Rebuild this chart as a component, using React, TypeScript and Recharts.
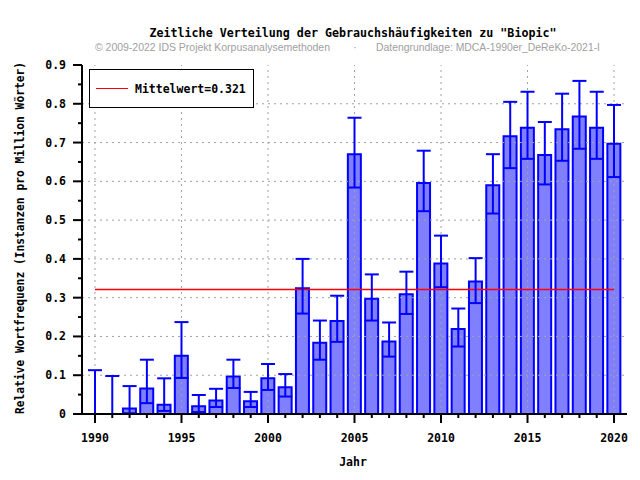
import React from "react";
import {
  ComposedChart,
  Bar,
  Scatter,
  XAxis,
  YAxis,
  ErrorBar,
  ReferenceLine,
} from "recharts";

const years = [
  1990, 1991, 1992, 1993, 1994, 1995, 1996, 1997, 1998, 1999, 2000, 2001,
  2002, 2003, 2004, 2005, 2006, 2007, 2008, 2009, 2010, 2011, 2012, 2013,
  2014, 2015, 2016, 2017, 2018, 2019, 2020,
];
const freq = [
  0, 0, 0.014, 0.066, 0.024, 0.15, 0.02, 0.035, 0.097, 0.033, 0.092, 0.069,
  0.324, 0.184, 0.24, 0.67, 0.297, 0.187, 0.309, 0.596, 0.388, 0.219, 0.342,
  0.59, 0.716, 0.738, 0.668, 0.734, 0.767, 0.738, 0.697,
];
const lower = [
  0, 0, 0.002, 0.028, 0.008, 0.093, 0.005, 0.018, 0.067, 0.018, 0.062, 0.045,
  0.259, 0.14, 0.186, 0.584, 0.241, 0.148, 0.258, 0.523, 0.327, 0.174, 0.286,
  0.517, 0.634, 0.658, 0.592, 0.653, 0.684, 0.658, 0.611,
];
const upper = [
  0.113, 0.098, 0.072, 0.14, 0.092, 0.237, 0.049, 0.065, 0.14, 0.057, 0.129,
  0.103, 0.4, 0.241, 0.305, 0.764, 0.36, 0.236, 0.367, 0.679, 0.46, 0.272,
  0.402, 0.67, 0.805, 0.831, 0.753, 0.826, 0.859, 0.831, 0.797,
];
const MEAN = 0.321;

const yTicks = [
  0, 0.05, 0.1, 0.15, 0.2, 0.25, 0.3, 0.35, 0.4, 0.45, 0.5, 0.55, 0.6, 0.65,
  0.7, 0.75, 0.8, 0.85, 0.9,
];
const xGrid = [1990, 1995, 2000, 2005, 2010, 2015, 2020];
const yGrid = [0.1, 0.2, 0.3, 0.4, 0.5, 0.6, 0.7, 0.8];

const TITLE = 'Zeitliche Verteilung der Gebrauchshäufigkeiten zu "Biopic"';
const COPYRIGHT = "© 2009-2022 IDS Projekt Korpusanalysemethoden";
const SOURCE = "Datengrundlage: MDCA-1990er_DeReKo-2021-I";
const X_LABEL = "Jahr";
const Y_LABEL = "Relative Wortfrequenz (Instanzen pro Million Wörter)";
const LEGEND_LABEL = `Mittelwert=${MEAN}`;

const data = years.map((year, i) => ({
  year,
  freq: freq[i],
  err: [freq[i] - lower[i], upper[i] - freq[i]],
}));

const MONO = "'DejaVu Sans Mono', monospace";
const SANS = "'Liberation Sans', Arial, sans-serif";
const BLUE = "#0000ff";
const RED = "#ff0000";

const isMajor = (v: number, step: number) =>
  Math.abs(Math.round(v / step) * step - v) < 1e-6;

function YTick(props: any) {
  const { x, y, payload } = props;
  const v = payload.value as number;
  const major = isMajor(v, 0.1);
  return (
    <g>
      <line x1={x - (major ? 9 : 4)} x2={x} y1={y} y2={y} stroke="#000" strokeWidth={2} />
      {major && (
        <text x={x - 16} y={y + 4} textAnchor="end" fontFamily={MONO} fontWeight="bold" fontSize={11.5} fill="#000">
          {v === 0 ? "0" : v.toFixed(1)}
        </text>
      )}
    </g>
  );
}

function XTick(props: any) {
  const { x, y, payload } = props;
  const v = payload.value as number;
  const major = v % 5 === 0;
  return (
    <g>
      <line x1={x} x2={x} y1={y} y2={y + (major ? 9 : 4)} stroke="#000" strokeWidth={2} />
      {major && (
        <text x={x} y={y + 28} textAnchor="middle" fontFamily={MONO} fontWeight="bold" fontSize={11.5} fill="#000">
          {v}
        </text>
      )}
    </g>
  );
}

// mean line drawn as a plain path between the two scaled end points
function MeanLine(props: any) {
  const { x1, x2, y1, y2 } = props;
  return <line x1={x1} x2={x2} y1={y1} y2={y2} style={{ stroke: RED }} strokeWidth={1.5} />;
}

export default function App() {
  return (
    <div style={{ position: "absolute", left: 0, top: 0, width: 640, height: 480, background: "#fff" }}>
      <ComposedChart
        width={640}
        height={480}
        data={data}
        margin={{ top: 65, right: 13, bottom: 26, left: 22 }}
      >
        <XAxis
          dataKey="year"
          type="number"
          domain={[1989.25, 2020.75]}
          ticks={years}
          interval={0}
          height={40}
          axisLine={{ stroke: "#000", strokeWidth: 2 }}
          tickLine={false}
          tickSize={0}
          tickMargin={0}
          tick={<XTick />}
        />
        <XAxis
          xAxisId="top"
          orientation="top"
          dataKey="year"
          type="number"
          domain={[1989.25, 2020.75]}
          height={0}
          tick={false}
          tickLine={false}
          axisLine={{ stroke: "#000", strokeWidth: 2 }}
        />
        <YAxis
          type="number"
          domain={[0, 0.9]}
          ticks={yTicks}
          interval={0}
          width={60}
          axisLine={{ stroke: "#000", strokeWidth: 2 }}
          tickLine={false}
          tickSize={0}
          tickMargin={0}
          tick={<YTick />}
        />
        <YAxis
          yAxisId="right"
          orientation="right"
          type="number"
          domain={[0, 0.9]}
          width={0}
          tick={false}
          tickLine={false}
          axisLine={{ stroke: "#000", strokeWidth: 2 }}
        />
        {yGrid.map((v) => (
          <ReferenceLine key={"gy" + v} y={v} stroke="#a0a0a0" strokeDasharray="2 4" />
        ))}
        {xGrid.map((v) => (
          <ReferenceLine key={"gx" + v} x={v} stroke="#a0a0a0" strokeDasharray="2 4" />
        ))}
        <ReferenceLine
          segment={[
            { x: years[0], y: MEAN },
            { x: years[years.length - 1], y: MEAN },
          ]}
          shape={<MeanLine />}
        />
        <Bar
          dataKey="freq"
          barSize={13}
          fill="#8080ff"
          stroke={BLUE}
          strokeWidth={2}
          isAnimationActive={false}
        />
        <Scatter
          dataKey="freq"
          shape={() => <g />}
          isAnimationActive={false}
        >
          <ErrorBar dataKey="err" width={7} stroke={BLUE} strokeWidth={2} direction="y" />
        </Scatter>
      </ComposedChart>
      <svg
        width={640}
        height={480}
        style={{ position: "absolute", left: 0, top: 0, pointerEvents: "none" }}
      >
        <text x={353} y={37} textAnchor="middle" fontFamily={MONO} fontWeight="bold" fontSize={11.5} textLength={407} lengthAdjust="spacingAndGlyphs">
          {TITLE}
        </text>
        <text x={95} y={51} fontFamily={SANS} fontSize={11.5} fill="#a0a0a0" textLength={235} lengthAdjust="spacingAndGlyphs">
          {COPYRIGHT}
        </text>
        <text x={355} y={51} textAnchor="middle" fontFamily={SANS} fontSize={11.5} fill="#a0a0a0">
          ·
        </text>
        <text x={376} y={51} fontFamily={SANS} fontSize={11.5} fill="#a0a0a0" textLength={224} lengthAdjust="spacingAndGlyphs">
          {SOURCE}
        </text>
        <rect x={89.5} y={69.5} width={164} height={38} fill="#fff" stroke="#000" strokeWidth={1} />
        <line x1={96} x2={128} y1={88.5} y2={88.5} stroke={RED} strokeWidth={1} />
        <text x={135} y={93} fontFamily={MONO} fontWeight="bold" fontSize={11.5}>
          {LEGEND_LABEL}
        </text>
        <text x={353} y={466} textAnchor="middle" fontFamily={MONO} fontWeight="bold" fontSize={11.5}>
          {X_LABEL}
        </text>
        <text
          x={0}
          y={0}
          transform="translate(24 238) rotate(-90)"
          textAnchor="middle"
          fontFamily={MONO}
          fontWeight="bold"
          fontSize={11.5}
          textLength={352}
          lengthAdjust="spacingAndGlyphs"
        >
          {Y_LABEL}
        </text>
      </svg>
    </div>
  );
}
